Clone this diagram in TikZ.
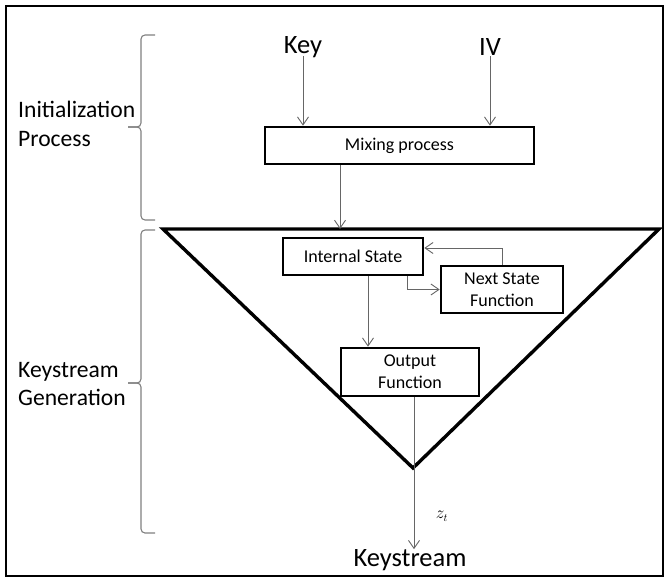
\documentclass[tikz,border=0pt]{standalone}
\usepackage{fontspec}
\setmainfont{Carlito}
\usetikzlibrary{arrows.meta}

\begin{document}
\begin{tikzpicture}[x=1pt, y=-1pt,
                    box/.style={draw=black, line width=2.6pt, fill=white, align=center, inner sep=0pt, font=\fontsize{18}{22}\selectfont},
                    arr/.style={draw=black!60, line width=0.9pt, -{Straight Barb[length=8pt,width=11pt]}},
                    tri/.style={draw=black, line width=3.4pt, line join=miter},
                    bracket/.style={draw=black!50, line width=1.1pt, rounded corners=4pt},
                    big/.style={inner sep=0pt, font=\fontsize{26.5}{30}\selectfont},
                    side/.style={inner sep=0pt, anchor=west, align=left, font=\fontsize{23.6}{28.5}\selectfont}
                ]
\useasboundingbox (0,0) rectangle (668,581);
\draw[line width=2.8pt] (6,6) rectangle (663,576);

% Braces on the left
\draw[bracket] (155,35) -- (141,35) -- (141,127) -- (128,127);
\draw[bracket] (128,127) -- (141,127) -- (141,220) -- (155,220);
\draw[bracket] (155,230) -- (141,230) -- (141,383) -- (128,383);
\draw[bracket] (128,383) -- (141,383) -- (141,533) -- (155,533);
\node[side] (init) at (18,124) {Initialization\\Process};
\node[side] (gen) at (18,384) {Keystream\\Generation};

% Generator triangle
\draw[tri] (163,229) -- (659,229) -- (413,468) -- cycle;
\coordinate (top) at (340,229);

\node[big] (key) at (303,47) {Key};
\node[big] (iv) at (490,47) {IV};
\node[box, minimum width=269pt, minimum height=37pt] (mix) at (399.5,145.5) {Mixing process};
\node[box, minimum width=140pt, minimum height=37pt] (state) at (353,256.5) {Internal State};
\node[box, minimum width=122pt, minimum height=47pt] (next) at (502,289.5) {Next State\\Function};
\node[box, minimum width=138pt, minimum height=48pt] (out) at (410,372) {Output\\Function};
\node[big] (ks) at (410,560) {Keystream};
\node[font=\fontsize{16}{16}\selectfont] (zt) at (442,516) {$z_t$};

% Connections
\draw[arr] ([yshift=-9pt]key.center) -- (key.center |- mix.north);
\draw[arr] ([yshift=-9pt]iv.center) -- (iv.center |- mix.north);
\draw[arr] (top |- mix.south) -- (top);
\draw[arr] ([xshift=15pt]state.south) -- ([xshift=15pt]state.south |- out.north);
\draw[arr] ([xshift=54pt]state.south) |- (next.west);
\draw[arr] (next.north) |- ([yshift=8.5pt]state.east);
\draw[arr] ([xshift=4pt]out.south) -- ([xshift=4pt]out.south |- ks.north);

\end{tikzpicture}
\end{document}
